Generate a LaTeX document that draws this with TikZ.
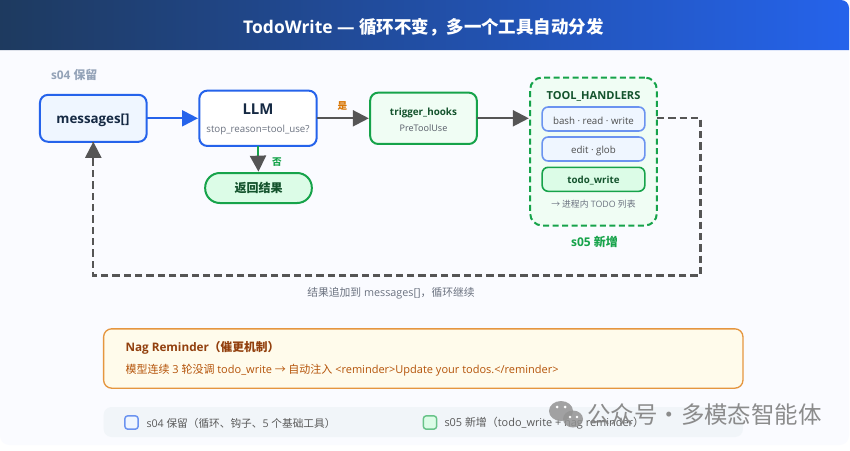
\documentclass[tikz,border=0pt]{standalone}
\usepackage{fontspec}
\setmainfont{Open Sans}
\newfontfamily\cjk{Noto Sans CJK SC}
\usetikzlibrary{arrows.meta,positioning,calc}
\newcommand\C[1]{{\cjk #1}}
\newcommand\fs[1]{\fontsize{#1}{#1}\selectfont}
\definecolor{bluec}{HTML}{2563EB}
\definecolor{bluef}{HTML}{EFF6FF}
\definecolor{greenc}{HTML}{16A34A}
\definecolor{greenf}{HTML}{F0FDF4}
\definecolor{greend}{HTML}{DCFCE7}
\definecolor{greent}{HTML}{14532D}
\definecolor{navy}{HTML}{1E3A5F}
\definecolor{card}{HTML}{FAFBFF}
\definecolor{grayt}{HTML}{6B7280}
\definecolor{lineg}{HTML}{555555}
\definecolor{oran}{HTML}{E5963F}
\definecolor{yesc}{HTML}{D97706}
\definecolor{nagf}{HTML}{FFFBEB}
\definecolor{nagt}{HTML}{92400E}
\definecolor{nagl}{HTML}{B45309}
\definecolor{legf}{HTML}{F1F5F9}
\definecolor{softblue}{HTML}{6B93F0}
\definecolor{slate}{HTML}{94A3B8}
\tikzset{
  x=0.75pt,y=-0.75pt,
  boxbase/.style={draw,line width=1.5pt,inner sep=0pt,outer sep=0pt,rounded corners=6pt},
  bluebox/.style={boxbase,draw=bluec,fill=bluef},
  whitebox/.style={boxbase,draw=bluec,fill=white},
  greenbox/.style={boxbase,draw=greenc,fill=greenf},
  toolbox/.style={boxbase,draw=softblue,line width=1.2pt,fill=bluef,minimum width=77pt,minimum height=18pt,rounded corners=4.5pt},
  arrowg/.style={line width=1.6pt,draw=lineg,-{Triangle[length=12pt,width=12pt,fill=lineg]},shorten >=1pt},
  arrowb/.style={line width=1.6pt,draw=bluec,-{Triangle[length=12pt,width=12pt,fill=bluec]},shorten >=1pt},
  lab/.style={inner sep=0pt,outer sep=0pt},
  ret/.style={line width=1.6pt,draw=lineg,dash pattern=on 5.5pt off 3pt},
}
\begin{document}
\begin{tikzpicture}
\useasboundingbox (0,0) rectangle (850,450);
\fill[white] (0,0) rectangle (850,450);
\fill[card,rounded corners=7pt] (0,30) rectangle (849,445);
\shade[left color=navy,right color=bluec] (0,50) -- (0,0) [rounded corners=6pt] -- (849,0) [sharp corners] -- (849,50) -- cycle;
\node[lab,text=white] (title) at (423.5,27) {\fs{13.1}\bfseries TodoWrite — \C{循环不变，多一个工具自动分发}};

\node[lab,text=slate,anchor=west] (s04) at (51,75) {\fs{8.9}\bfseries s04 \C{保留}};

\node[bluebox,minimum width=80pt,minimum height=35.2pt] (msg) at (93.3,118.3) {};
\node[lab,text=navy!70!black] (msgt) at (93,120.5) {\fs{10}\bfseries messages[]};
\node[whitebox,minimum width=88pt,minimum height=41.5pt] (llm) at (258,118.3) {};
\node[lab,text=navy!70!black] (llmt) at (258,109.5) {\fs{11.2}\bfseries LLM};
\node[lab,text=grayt] (llms) at (258,129.5) {\fs{7.3}stop\_reason=tool\_use?};
\node[greenbox,minimum width=80pt,minimum height=38.5pt] (trig) at (423.5,118.3) {};
\node[lab,text=greent] (trigt) at (423.5,112.5) {\fs{7.4}\bfseries trigger\_hooks};
\node[lab,text=grayt!80!black] (trigs) at (423.5,128) {\fs{6.8}PreToolUse};
\node[boxbase,draw=greenc,fill=greend,minimum width=80pt,minimum height=22.5pt,rounded corners=11pt] (res) at (258.5,188) {\fs{9}\C{\bfseries\color{greent}返回结果}};

\node[boxbase,draw=greenc,fill=greenf,dash pattern=on 4.5pt off 2.6pt,minimum width=95pt,minimum height=111pt,rounded corners=9pt] (th) at (593.5,151.5) {};
\node[lab,text=greent] (tht) at (593.5,96.5) {\fs{8.3}\bfseries TOOL\_HANDLERS};
\node[toolbox] (t1) at (593.5,119) {};
\node[lab,text=black!70] (t1t) at (593.5,120.5) {\fs{7.3}bash · read · write};
\node[toolbox] (t2) at (593.5,149) {};
\node[lab,text=black!70] (t2t) at (593.5,150.5) {\fs{7.3}edit · glob};
\node[toolbox,draw=greenc,fill=greend] (t3) at (593.5,179.3) {};
\node[lab,text=greent] (t3t) at (593.5,180.5) {\fs{7.3}\bfseries todo\_write};
\node[lab,text=grayt] (tn) at (593.5,204) {\fs{6.6}\C{→ 进程内} TODO \C{列表}};
\node[lab,text=greenc] (s05) at (594.5,242) {\fs{9}\bfseries s05 \C{新增}};

\draw[arrowb] (msg.east) -- (llm.west);
\draw[arrowg] (llm.east) -- (trig.west);
\draw[arrowg] (trig.east) -- (trig.east -| th.west);
\node[lab,text=yesc] (yes) at (342.5,106.5) {\fs{7.2}\C{\bfseries 是}};
\draw[line width=1.6pt,draw=greenc] (llm.south) -- ++(0,10) coordinate (gm);
\draw[arrowg] (gm) -- (res.north);
\node[lab,text=greenc] (no) at (277,162) {\fs{7.2}\C{\bfseries 否}};

\coordinate (c1) at (700.5,118);
\coordinate (c2) at (700.5,275.5);
\coordinate (c3) at (93.3,275.5);
\draw[ret] (th.east |- c1) -- (c1) -- (c2) -- (c3) -- (msg.south);
\draw[-{Triangle[length=12pt,width=12pt,fill=lineg]},draw=lineg,line width=1.6pt] ($(msg.south)+(0,17)$) -- (msg.south);
\node[lab,text=grayt] (rl) at (391,293) {\fs{8.1}\C{结果追加到} messages[]\C{，循环继续}};

\node[boxbase,draw=oran,fill=nagf,line width=1pt,minimum width=479.5pt,minimum height=44.5pt] (nag) at (423.3,358.5) {};
\node[lab,text=nagt,anchor=west] (nagh) at (125.5,348) {\fs{8.8}\bfseries Nag Reminder\C{（催更机制）}};
\node[lab,text=nagl,anchor=west] (nagb) at (125.5,370) {\fs{8.25}\C{模型连续} 3 \C{轮没调} todo\_write \C{→ 自动注入} <reminder>Update your todos.</reminder>};

\node[inner sep=0pt,fill=legf,rounded corners=6pt,minimum width=479.5pt,minimum height=22.5pt] (leg) at (423.3,422) {};
\node[draw=softblue,fill=bluef,line width=1.1pt,inner sep=0pt,minimum size=10pt,rounded corners=2.2pt] (k1) at (131.5,422.5) {};
\node[lab,text=black!65,anchor=west] (l1) at (146.5,423) {\fs{8}s04 \C{保留（循环、钩子、}5 \C{个基础工具）}};
\node[draw=greenc!65,fill=greend,line width=1.1pt,inner sep=0pt,minimum size=10pt,rounded corners=2.2pt] (k2) at (430,422.5) {};
\node[lab,text=black!65,anchor=west] (l2) at (444.5,423) {\fs{8.2}s05 \C{新增（}todo\_write + nag reminder\C{）}};

\fill[gray!85,opacity=0.85] (561,411) ellipse (12 and 10);
\fill[gray!85,opacity=0.85] (573,419) ellipse (10 and 8.5);
\fill[white] (557,407) circle (1.5) (565,407) circle (1.5) (570,417) circle (1.3) (577,417) circle (1.3);
\node[lab,text=gray,opacity=0.9] (wm) at (704.5,415) {\fs{17.6}\C{公众号\makebox[17.6pt][c]{·}多模态智能体}};
\end{tikzpicture}
\end{document}
